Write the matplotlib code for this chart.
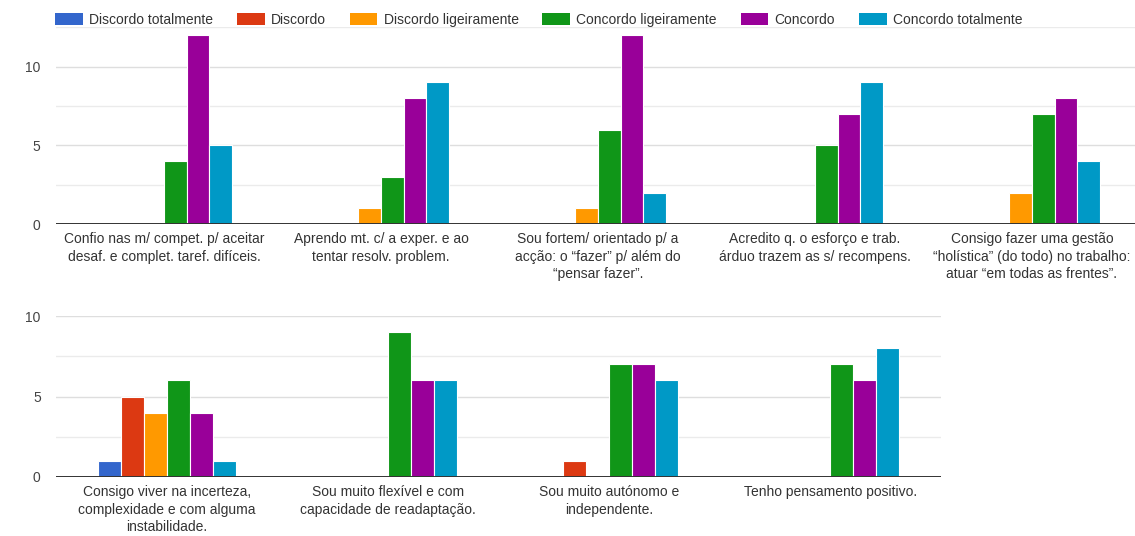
import numpy as np
import matplotlib
matplotlib.use("Agg")
import matplotlib.pyplot as plt
from matplotlib.patches import Patch

plt.rcParams['font.family'] = ['Liberation Sans', 'DejaVu Sans']

answers = ['Discordo totalmente', 'Discordo', 'Discordo ligeiramente',
           'Concordo ligeiramente', 'Concordo', 'Concordo totalmente']
colors = ['#3366cc', '#dc3912', '#ff9900', '#109618', '#990099', '#0099c6']

# first row of statements
items_top = [
    'Confio nas m/ compet. p/ aceitar\ndesaf. e complet. taref. difíceis.',
    'Aprendo mt. c/ a exper. e ao\ntentar resolv. problem.',
    'Sou fortem/ orientado p/ a\nacção: o “fazer” p/ além do\n“pensar fazer”.',
    'Acredito q. o esforço e trab.\nárduo trazem as s/ recompens.',
    'Consigo fazer uma gestão\n“holística” (do todo) no trabalho:\natuar “em todas as frentes”.',
]
# counts per answer (columns follow `answers`)
counts_top = [
    [0, 0, 0, 4, 12, 5],
    [0, 0, 1, 3, 8, 9],
    [0, 0, 1, 6, 12, 2],
    [0, 0, 0, 5, 7, 9],
    [0, 0, 2, 7, 8, 4],
]

# second row of statements
items_bottom = [
    'Consigo viver na incerteza,\ncomplexidade e com alguma\ninstabilidade.',
    'Sou muito flexível e com\ncapacidade de readaptação.',
    'Sou muito autónomo e\nindependente.',
    'Tenho pensamento positivo.',
]
counts_bottom = [
    [1, 5, 4, 6, 4, 1],
    [0, 0, 0, 9, 6, 6],
    [0, 1, 0, 7, 7, 6],
    [0, 0, 0, 7, 6, 8],
]

W, H = 1135, 536
fig = plt.figure(figsize=(W / 100, H / 100), dpi=100)
FS = 10
TEXT = '#333333'


def draw_row(ax, items, counts, ymax):
    counts = np.array(counts)
    step = 0.104
    x = np.arange(len(items))
    for j, (name, col) in enumerate(zip(answers, colors)):
        offs = (j - 2.5) * step
        for i in x:
            v = counts[i, j]
            if v == 0:
                continue
            ax.bar(i + offs, v, width=step, color=col, edgecolor='white',
                   linewidth=0.8, zorder=3)
    ax.set_xlim(-0.5, len(items) - 0.5)
    ax.set_ylim(0, ymax)
    for g in np.arange(2.5, ymax + 0.01, 2.5):
        ax.axhline(g, color='#dedede' if g % 5 == 0 else '#ebebeb',
                   linewidth=1, zorder=1)
    ax.axhline(0, color='#333333', linewidth=1.4, zorder=4)
    for s in ax.spines.values():
        s.set_visible(False)
    ax.set_yticks([0, 5, 10])
    ax.set_yticklabels(['0', '5', '10'])
    ax.tick_params(axis='y', length=0, pad=11, labelsize=FS, labelcolor='#444444')
    ax.set_xticks(x)
    ax.set_xticklabels(items, fontsize=FS, color=TEXT, linespacing=1.3)
    ax.tick_params(axis='x', length=0, pad=6)


ax_top = fig.add_axes([55.5 / W, 312 / H, 1085 / W, 196.6 / H])
draw_row(ax_top, items_top, counts_top, 12.5)

ax_bot = fig.add_axes([56 / W, 59 / H, 885 / W, 161 / H])
draw_row(ax_bot, items_bottom, counts_bottom, 10)

handles = [Patch(facecolor=c, edgecolor='none') for c in colors]
fig.legend(handles, answers, loc='upper left', bbox_to_anchor=(55 / W, 1 - 13 / H),
           ncol=6, frameon=False, fontsize=FS, handlelength=2.0, handleheight=0.95,
           handletextpad=0.45, columnspacing=1.71, borderpad=0, borderaxespad=0,
           labelcolor=TEXT)

fig.savefig('out.png', dpi=100, facecolor='white')
